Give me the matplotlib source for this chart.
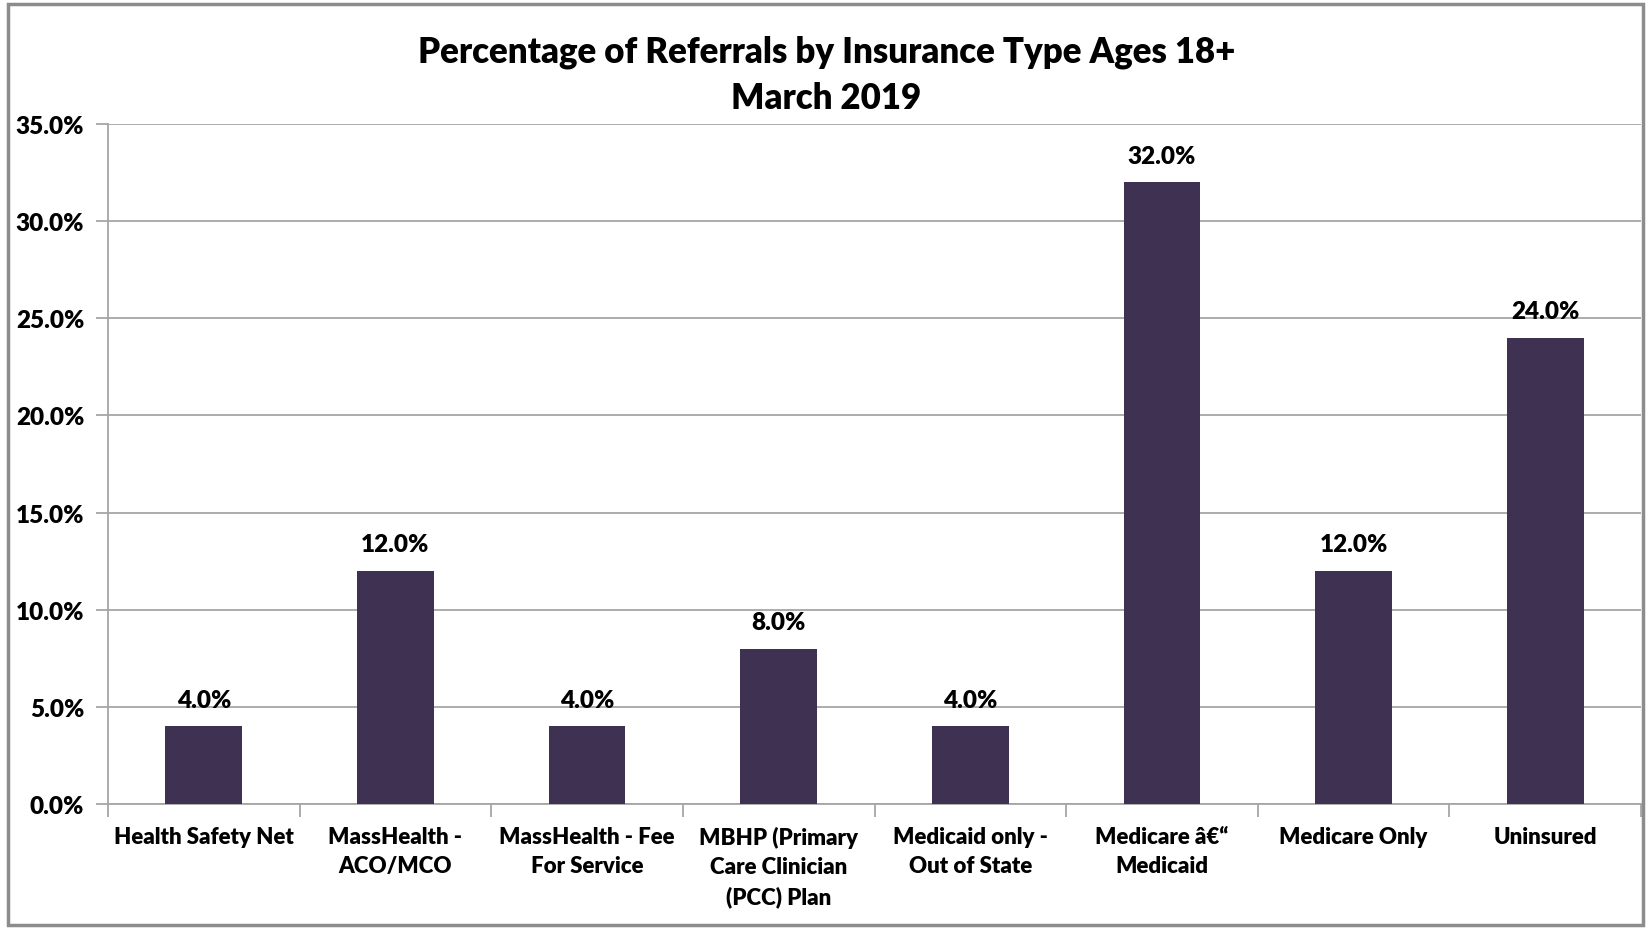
import numpy as np
import matplotlib; matplotlib.use("Agg")
import matplotlib.pyplot as plt
import matplotlib.ticker as mticker
from matplotlib.patches import Rectangle

# chart data
categories = [
    "Health Safety Net",
    "MassHealth -\nACO/MCO",
    "MassHealth - Fee\nFor Service",
    "MBHP (Primary\nCare Clinician\n(PCC) Plan",
    "Medicaid only -\nOut of State",
    "Medicare \u00e2\u20ac\u201c\nMedicaid",
    "Medicare Only",
    "Uninsured",
]
values = [4.0, 12.0, 4.0, 8.0, 4.0, 32.0, 12.0, 24.0]
yticks = [0, 5, 10, 15, 20, 25, 30, 35]
title = "Percentage of Referrals by Insurance Type Ages 18+\nMarch 2019"

plt.rcParams["font.family"] = ["Lato", "DejaVu Sans"]
W = "heavy"

BAR = "#3f3151"
GRID = "#a6a6a6"

fig = plt.figure(figsize=(16.46, 9.29), dpi=100, facecolor="white")
ax = fig.add_axes([0.0656, 0.1335, 0.9314, 0.732])

x = np.arange(len(categories))
bars = ax.bar(x, values, width=0.4, color=BAR, zorder=3)
for b, v in zip(bars, values):
    ax.text(b.get_x() + b.get_width() / 2, v + 0.8, f"{v:.1f}%",
            ha="center", va="bottom", fontsize=17.5, fontweight=W, color="black")

ax.set_xlim(-0.5, len(categories) - 0.5)
ax.set_ylim(0, 35)
ax.set_yticks(yticks)
ax.yaxis.set_major_formatter(mticker.FuncFormatter(lambda v, p: f"{v:.1f}%"))
ax.yaxis.grid(True, color=GRID, linewidth=1.3, zorder=0)
ax.set_axisbelow(True)

ax.set_xticks(x)
ax.set_xticklabels(categories, fontsize=16, fontweight=W, linespacing=1.45, va="top")
ax.set_xticks(np.arange(-0.5, len(categories)), minor=True)
ax.tick_params(axis="x", which="major", length=0, pad=16)
ax.tick_params(axis="x", which="minor", length=9, color=GRID, width=1.3)
ax.tick_params(axis="y", length=9, color=GRID, width=1.3, labelsize=17.5, pad=8)
for lbl in ax.get_yticklabels():
    lbl.set_fontweight(W)

for s in ["top", "right"]:
    ax.spines[s].set_visible(False)
for s in ["left", "bottom"]:
    ax.spines[s].set_color(GRID)
    ax.spines[s].set_linewidth(1.3)

fig.text(0.502, 0.962, title, ha="center", va="top", fontsize=25,
         fontweight=W, linespacing=1.5)

fig.patches.append(Rectangle((0.005, 0.003), 0.993, 0.992, transform=fig.transFigure,
                             fill=False, edgecolor="#8c8c8c", linewidth=2.5))

fig.savefig("out.png", dpi=100, facecolor="white")
